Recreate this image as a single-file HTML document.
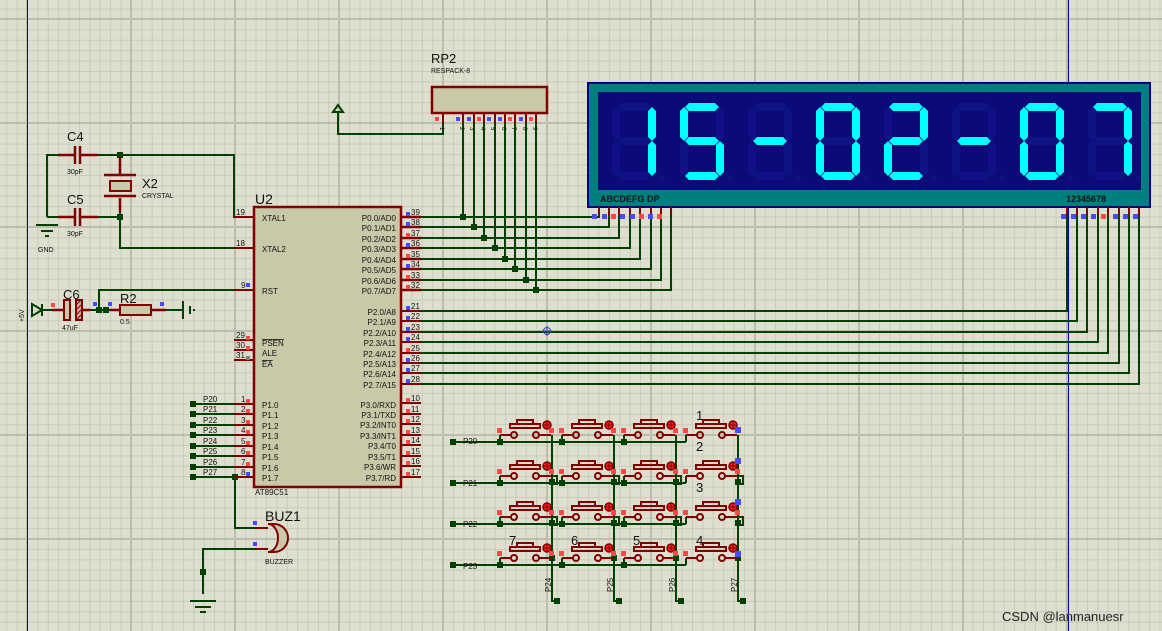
<!DOCTYPE html>
<html><head><meta charset="utf-8"><style>
html,body{margin:0;padding:0}
body{width:1162px;height:631px;overflow:hidden;background-color:#dfdfd0;
background-image:
linear-gradient(to right,#bdbdad 0,#bdbdad 2px,transparent 2px),
linear-gradient(to bottom,#bdbdad 0,#bdbdad 2px,transparent 2px),
linear-gradient(to right,#cbcbbb 0,#cbcbbb 1px,transparent 1px),
linear-gradient(to bottom,#cbcbbb 0,#cbcbbb 1px,transparent 1px);
background-size:104px 104px,104px 104px,10.4px 10.4px,10.4px 10.4px;
background-position:26px 0,0 18px,27px 0,0 19px;}
svg{position:absolute;left:0;top:0}
text{font-family:"Liberation Sans",sans-serif;fill:#111}
</style></head><body>
<svg width="1162" height="631" viewBox="0 0 1162 631">
<defs>
<polygon id="sa" points="5,4 9,0 35,0 39,4 35,8 9,8"/>
<polygon id="sg" points="5,38 9,34 35,34 39,38 35,42 9,42"/>
<polygon id="sd" points="5,73 9,69 35,69 39,73 35,77 9,77"/>
<polygon id="sf" points="4,4 8,8 8,34 4,38 0,34 0,8"/>
<polygon id="se" points="4,38 8,42 8,69 4,73 0,69 0,42"/>
<polygon id="sb" points="40,4 44,8 44,34 40,38 36,34 36,8"/>
<polygon id="sc" points="40,38 44,42 44,69 40,73 36,69 36,42"/>
<g id="off" fill="#0f1184"><use href="#sa"/><use href="#sb"/><use href="#sc"/><use href="#sd"/><use href="#se"/><use href="#sf"/><use href="#sg"/><circle cx="50" cy="75" r="3"/></g>
<g id="sw">
 <rect x="510" y="424" width="30" height="4" fill="none" stroke="#800000" stroke-width="2"/>
 <rect x="517" y="420" width="16" height="4" fill="none" stroke="#800000" stroke-width="2"/>
 <circle cx="547" cy="425" r="4" fill="#ff2020" stroke="#800000" stroke-width="1.5"/>
 <path d="M543 425h8M547 421v8" stroke="#800000" stroke-width="1"/>
 <path d="M500 435h11M539 435h12" stroke="#800000" stroke-width="2"/>
 <circle cx="514" cy="435" r="3" fill="none" stroke="#800000" stroke-width="2"/>
 <circle cx="536" cy="435" r="3" fill="none" stroke="#800000" stroke-width="2"/>
 <rect x="497" y="428" width="5" height="5" fill="#ff4848"/>
 <rect x="549" y="428" width="5" height="5" fill="#ff4848"/>
</g>
</defs>

<line x1="27.5" y1="0" x2="27.5" y2="631" stroke="#0000c0" stroke-width="1"/>
<line x1="1068.5" y1="0" x2="1068.5" y2="631" stroke="#0000c0" stroke-width="1"/>

<g fill="none" stroke="#004000" stroke-width="2">
<path d="M47 217V155H70M85 155H234V217H248"/>
<path d="M47 217H70M85 217H120M120 155V175M120 198V248H234"/>
<path d="M42 310H62M84 310H120M151 310H183M99 310V290H234"/>
<path d="M443 123V134H338V112"/>
<path d="M463 123V217M474 123V227M484 123V238M495 123V248M505 123V259M515 123V269M526 123V280M536 123V290"/>
<path d="M421 217H599V215M421 227H609V215M421 238H619V215M421 248H630V215M421 259H640V215M421 269H651V215M421 280H661V215M421 290H671V215"/>
<path d="M421 311H1067V215M421 321H1077V215M421 332H1087V215M421 342H1098V215M421 353H1108V215M421 363H1119V215M421 373H1129V215M421 384H1139V215"/>
<path d="M193 404H234M193 414H234M193 425H234M193 435H234M193 446H234M193 456H234M193 467H234M193 477H234"/>
<path d="M235 477V528H255M255 549H203V594"/>
<path d="M453 442H686M453 483H686M453 524H686M453 565H686"/>
<path d="M500 435V442M562 435V442M624 435V442M686 435V442"/>
<path d="M500 476V483M562 476V483M624 476V483M686 476V483"/>
<path d="M500 517V524M562 517V524M624 517V524M686 517V524"/>
<path d="M500 558V565M562 558V565M624 558V565M686 558V565"/>
<path d="M552 435V601H557M614 435V601H619M676 435V601H681M738 435V601H743"/>
<path d="M552 476H557V484H552M614 476H619V484H614M676 476H681V484H676M738 476H743V484H738"/>
<path d="M552 517H557V525H552M614 517H619V525H614M676 517H681V525H676M738 517H743V525H738"/>
</g>
<g fill="#004000">
<rect x="117" y="152" width="6" height="6"/><rect x="117" y="214" width="6" height="6"/>
<rect x="96" y="307" width="6" height="6"/><rect x="103" y="307" width="6" height="6"/>
<rect x="460" y="214" width="6" height="6"/><rect x="471" y="224" width="6" height="6"/><rect x="481" y="235" width="6" height="6"/><rect x="492" y="245" width="6" height="6"/><rect x="502" y="256" width="6" height="6"/><rect x="512" y="266" width="6" height="6"/><rect x="523" y="277" width="6" height="6"/><rect x="533" y="287" width="6" height="6"/>
<rect x="190" y="401" width="6" height="6"/><rect x="190" y="411" width="6" height="6"/><rect x="190" y="422" width="6" height="6"/><rect x="190" y="432" width="6" height="6"/><rect x="190" y="443" width="6" height="6"/><rect x="190" y="453" width="6" height="6"/><rect x="190" y="464" width="6" height="6"/><rect x="190" y="474" width="6" height="6"/>
<rect x="232" y="474" width="6" height="6"/><rect x="200" y="569" width="6" height="6"/>
<rect x="450" y="439" width="6" height="6"/><rect x="450" y="480" width="6" height="6"/><rect x="450" y="521" width="6" height="6"/><rect x="450" y="562" width="6" height="6"/>
<rect x="497" y="439" width="6" height="6"/><rect x="559" y="439" width="6" height="6"/><rect x="621" y="439" width="6" height="6"/>
<rect x="497" y="480" width="6" height="6"/><rect x="559" y="480" width="6" height="6"/><rect x="621" y="480" width="6" height="6"/>
<rect x="497" y="521" width="6" height="6"/><rect x="559" y="521" width="6" height="6"/><rect x="621" y="521" width="6" height="6"/>
<rect x="497" y="562" width="6" height="6"/><rect x="559" y="562" width="6" height="6"/><rect x="621" y="562" width="6" height="6"/>
<rect x="549" y="479" width="6" height="6"/><rect x="611" y="479" width="6" height="6"/><rect x="673" y="479" width="6" height="6"/><rect x="735" y="479" width="6" height="6"/>
<rect x="549" y="520" width="6" height="6"/><rect x="611" y="520" width="6" height="6"/><rect x="673" y="520" width="6" height="6"/><rect x="735" y="520" width="6" height="6"/>
<rect x="549" y="555" width="6" height="6"/><rect x="611" y="555" width="6" height="6"/><rect x="673" y="555" width="6" height="6"/><rect x="735" y="555" width="6" height="6"/>
<rect x="554" y="598" width="6" height="6"/><rect x="616" y="598" width="6" height="6"/><rect x="678" y="598" width="6" height="6"/><rect x="740" y="598" width="6" height="6"/>
</g>

<g stroke="#004000" stroke-width="2">
<path d="M36 225H58M41 231H53M45 236H49"/>
<path d="M190 601H216M195 607H211M200 612H206"/>
<path d="M183 301V319M190 306V314M194 309V311"/>
</g>
<path d="M42 310L32 304V316Z M42 304V316" fill="none" stroke="#004000" stroke-width="2"/>
<path d="M338 105L333 112H343Z" fill="none" stroke="#004000" stroke-width="2"/>

<g stroke="#800000" stroke-width="2.5">
<path d="M58 155H75M80 155H98M75 146V164M80 146V164"/>
<path d="M58 217H75M80 217H98M75 208V226M80 208V226"/>
<path d="M120 157V175M120 198V212M104 175H136M104 196H136"/>
<path d="M52 310H66M78 310H90M110 310H120M151 310H166M401 217H421M401 227H421M401 238H421M401 248H421M401 259H421M401 269H421M401 280H421M401 290H421"/>
</g>
<rect x="110" y="181" width="21" height="10" fill="#c9c9a9" stroke="#800000" stroke-width="2"/>
<rect x="64" y="300" width="6" height="20" fill="#c9c9a9" stroke="#800000" stroke-width="2"/>
<rect x="76" y="300" width="6" height="20" fill="#c9a9a9" stroke="#800000" stroke-width="2"/>
<path d="M77 304L81 300M77 309L81 305M77 314L81 310M77 319L81 315" stroke="#800000"/>
<rect x="120" y="305" width="31" height="10" fill="#c9c9a9" stroke="#800000" stroke-width="2"/>

<g fill="#4a4aff"><rect x="93" y="302" width="4" height="4"/><rect x="108" y="302" width="4" height="4"/><rect x="160" y="302" width="4" height="4"/></g>
<rect x="51" y="303" width="4" height="4" fill="#ff4848"/>

<rect x="254" y="207" width="147" height="280" fill="#c9c9a9" stroke="#800000" stroke-width="2.5"/>
<g stroke="#800000" stroke-width="2">
<path d="M234 217H254M234 248H254M234 290H254M234 340H254M234 350H254M234 360H254"/>
<path d="M234 404H254M234 414H254M234 425H254M234 435H254M234 446H254M234 456H254M234 467H254M234 477H254"/>
<path d="M401 311H421M401 321H421M401 332H421M401 342H421M401 353H421M401 363H421M401 373H421M401 384H421"/>
<path d="M401 403H421M401 414H421M401 424H421M401 435H421M401 445H421M401 456H421M401 466H421M401 477H421"/>
</g>
<g font-size="8">
<text x="236" y="215">19</text><text x="236" y="246">18</text><text x="241" y="288">9</text>
<text x="236" y="338">29</text><text x="236" y="348">30</text><text x="236" y="358">31</text>
<text x="241" y="402">1</text><text x="241" y="412">2</text><text x="241" y="423">3</text><text x="241" y="433">4</text><text x="241" y="444">5</text><text x="241" y="454">6</text><text x="241" y="465">7</text><text x="241" y="475">8</text>
<text x="411" y="215">39</text><text x="411" y="225">38</text><text x="411" y="236">37</text><text x="411" y="246">36</text><text x="411" y="257">35</text><text x="411" y="267">34</text><text x="411" y="278">33</text><text x="411" y="288">32</text>
<text x="411" y="309">21</text><text x="411" y="319">22</text><text x="411" y="330">23</text><text x="411" y="340">24</text><text x="411" y="351">25</text><text x="411" y="361">26</text><text x="411" y="371">27</text><text x="411" y="382">28</text>
<text x="411" y="401">10</text><text x="411" y="412">11</text><text x="411" y="422">12</text><text x="411" y="433">13</text><text x="411" y="443">14</text><text x="411" y="454">15</text><text x="411" y="464">16</text><text x="411" y="475">17</text>
<text x="262" y="221">XTAL1</text><text x="262" y="252">XTAL2</text><text x="262" y="294">RST</text>
<text x="262" y="346" text-decoration="overline">PSEN</text><text x="262" y="356">ALE</text><text x="262" y="367" text-decoration="overline">EA</text>
<text x="262" y="408">P1.0</text><text x="262" y="418">P1.1</text><text x="262" y="429">P1.2</text><text x="262" y="439">P1.3</text><text x="262" y="450">P1.4</text><text x="262" y="460">P1.5</text><text x="262" y="471">P1.6</text><text x="262" y="481">P1.7</text>
</g>
<g font-size="8" text-anchor="end">
<text x="396" y="221">P0.0/AD0</text><text x="396" y="231">P0.1/AD1</text><text x="396" y="242">P0.2/AD2</text><text x="396" y="252">P0.3/AD3</text><text x="396" y="263">P0.4/AD4</text><text x="396" y="273">P0.5/AD5</text><text x="396" y="284">P0.6/AD6</text><text x="396" y="294">P0.7/AD7</text>
<text x="396" y="315">P2.0/A8</text><text x="396" y="325">P2.1/A9</text><text x="396" y="336">P2.2/A10</text><text x="396" y="346">P2.3/A11</text><text x="396" y="357">P2.4/A12</text><text x="396" y="367">P2.5/A13</text><text x="396" y="377">P2.6/A14</text><text x="396" y="388">P2.7/A15</text>
<text x="396" y="408">P3.0/RXD</text><text x="396" y="418">P3.1/TXD</text><text x="396" y="428">P3.2/INT0</text><text x="396" y="439">P3.3/INT1</text><text x="396" y="449">P3.4/T0</text><text x="396" y="460">P3.5/T1</text><text x="396" y="470">P3.6/WR</text><text x="396" y="481">P3.7/RD</text>
</g>
<g fill="#ff4848">
<rect x="246" y="336" width="4" height="4"/><rect x="246" y="346" width="4" height="4"/>
<rect x="246" y="399" width="4" height="4"/><rect x="246" y="409" width="4" height="4"/><rect x="246" y="420" width="4" height="4"/><rect x="246" y="430" width="4" height="4"/><rect x="246" y="441" width="4" height="4"/><rect x="246" y="451" width="4" height="4"/><rect x="246" y="462" width="4" height="4"/>
<rect x="406" y="233" width="4" height="4"/><rect x="406" y="254" width="4" height="4"/><rect x="406" y="275" width="4" height="4"/><rect x="406" y="285" width="4" height="4"/><rect x="406" y="348" width="4" height="4"/>
<rect x="406" y="398" width="4" height="4"/><rect x="406" y="409" width="4" height="4"/><rect x="406" y="419" width="4" height="4"/><rect x="406" y="430" width="4" height="4"/><rect x="406" y="440" width="4" height="4"/><rect x="406" y="451" width="4" height="4"/><rect x="406" y="461" width="4" height="4"/><rect x="406" y="472" width="4" height="4"/>
</g>
<rect x="246" y="356" width="4" height="4" fill="#808080"/>
<g fill="#4a4aff">
<rect x="246" y="283" width="4" height="4"/><rect x="246" y="472" width="4" height="4"/>
<rect x="406" y="212" width="4" height="4"/><rect x="406" y="222" width="4" height="4"/><rect x="406" y="243" width="4" height="4"/><rect x="406" y="264" width="4" height="4"/>
<rect x="406" y="306" width="4" height="4"/><rect x="406" y="316" width="4" height="4"/><rect x="406" y="327" width="4" height="4"/><rect x="406" y="337" width="4" height="4"/><rect x="406" y="358" width="4" height="4"/><rect x="406" y="368" width="4" height="4"/><rect x="406" y="379" width="4" height="4"/>
</g>

<text x="255" y="204" font-size="14">U2</text>
<text x="255" y="495" font-size="8">AT89C51</text>
<text x="67" y="141" font-size="13">C4</text><text x="67" y="174" font-size="7">30pF</text>
<text x="67" y="204" font-size="13">C5</text><text x="67" y="236" font-size="7">30pF</text>
<text x="142" y="188" font-size="13">X2</text><text x="142" y="198" font-size="7">CRYSTAL</text>
<text x="38" y="252" font-size="7">GND</text>
<text x="63" y="299" font-size="13">C6</text><text x="62" y="330" font-size="7">47uF</text>
<text x="120" y="303" font-size="13">R2</text><text x="120" y="324" font-size="7">0.5</text>
<text x="24" y="322" font-size="7" transform="rotate(-90 24 322)">+5V</text>
<g font-size="8">
<text x="203" y="402">P20</text><text x="203" y="412">P21</text><text x="203" y="423">P22</text><text x="203" y="433">P23</text><text x="203" y="444">P24</text><text x="203" y="454">P25</text><text x="203" y="465">P26</text><text x="203" y="475">P27</text>
</g>

<path d="M255 528H268M255 549H268" stroke="#800000" stroke-width="2"/>
<path d="M268 524H274A14 14 0 0 1 274 552H268A10 14 0 0 0 268 524Z" fill="#c9c9a9" stroke="#800000" stroke-width="2"/>
<rect x="253" y="521" width="4" height="4" fill="#4a4aff"/><rect x="253" y="542" width="4" height="4" fill="#4a4aff"/>
<text x="265" y="521" font-size="14">BUZ1</text><text x="265" y="564" font-size="7">BUZZER</text>

<rect x="432" y="87" width="115" height="26" fill="#c9c9a9" stroke="#800000" stroke-width="2.5"/>
<path d="M443 113V123M463 113V123M474 113V123M484 113V123M495 113V123M505 113V123M515 113V123M526 113V123M536 113V123" stroke="#800000" stroke-width="2"/>
<g fill="#4a4aff"><rect x="456" y="117" width="4" height="4"/><rect x="467" y="117" width="4" height="4"/><rect x="487" y="117" width="4" height="4"/><rect x="498" y="117" width="4" height="4"/><rect x="519" y="117" width="4" height="4"/></g>
<g fill="#ff4848"><rect x="435" y="117" width="4" height="4"/><rect x="477" y="117" width="4" height="4"/><rect x="508" y="117" width="4" height="4"/><rect x="529" y="117" width="4" height="4"/></g>
<text x="431" y="63" font-size="13">RP2</text><text x="431" y="73" font-size="7">RESPACK-8</text>
<g font-size="6"><text x="440" y="127" transform="rotate(90 440 127)">1</text><text x="460" y="127" transform="rotate(90 460 127)">2</text><text x="470" y="127" transform="rotate(90 470 127)">3</text><text x="481" y="127" transform="rotate(90 481 127)">4</text><text x="491" y="127" transform="rotate(90 491 127)">5</text><text x="502" y="127" transform="rotate(90 502 127)">6</text><text x="512" y="127" transform="rotate(90 512 127)">7</text><text x="523" y="127" transform="rotate(90 523 127)">8</text><text x="533" y="127" transform="rotate(90 533 127)">9</text></g>

<rect x="588" y="83" width="562" height="124" fill="#007f7f" stroke="#000080" stroke-width="2"/>
<rect x="598" y="92" width="543" height="98" fill="#0a0a78"/>
<g>
<use href="#off" x="612" y="103"/><use href="#off" x="680" y="103"/><use href="#off" x="748" y="103"/><use href="#off" x="816" y="103"/>
<use href="#off" x="884" y="103"/><use href="#off" x="952" y="103"/><use href="#off" x="1020" y="103"/><use href="#off" x="1088" y="103"/>
</g>
<g fill="#00ffff">
<g transform="translate(612 103)"><use href="#sb"/><use href="#sc"/></g>
<g transform="translate(680 103)"><use href="#sa"/><use href="#sf"/><use href="#sg"/><use href="#sc"/><use href="#sd"/></g>
<g transform="translate(748 103)"><use href="#sg"/></g>
<g transform="translate(816 103)"><use href="#sa"/><use href="#sb"/><use href="#sc"/><use href="#sd"/><use href="#se"/><use href="#sf"/></g>
<g transform="translate(884 103)"><use href="#sa"/><use href="#sb"/><use href="#sg"/><use href="#se"/><use href="#sd"/></g>
<g transform="translate(952 103)"><use href="#sg"/></g>
<g transform="translate(1020 103)"><use href="#sa"/><use href="#sb"/><use href="#sc"/><use href="#sd"/><use href="#se"/><use href="#sf"/></g>
<g transform="translate(1088 103)"><use href="#sa"/><use href="#sb"/><use href="#sc"/></g>
</g>
<text x="600" y="202" font-size="9" font-weight="bold" fill="#000">ABCDEFG DP</text>
<text x="1066" y="202" font-size="9" font-weight="bold" fill="#000">12345678</text>
<path d="M599 207V215M609 207V215M619 207V215M630 207V215M640 207V215M651 207V215M661 207V215M671 207V215M1067 207V215M1077 207V215M1087 207V215M1098 207V215M1108 207V215M1119 207V215M1129 207V215M1139 207V215" stroke="#800000" stroke-width="2"/>
<g fill="#4a4aff"><rect x="592" y="214" width="5" height="5"/><rect x="602" y="214" width="5" height="5"/><rect x="620" y="214" width="5" height="5"/><rect x="630" y="214" width="5" height="5"/><rect x="648" y="214" width="5" height="5"/>
<rect x="1061" y="214" width="5" height="5"/><rect x="1071" y="214" width="5" height="5"/><rect x="1081" y="214" width="5" height="5"/><rect x="1091" y="214" width="5" height="5"/><rect x="1113" y="214" width="5" height="5"/><rect x="1123" y="214" width="5" height="5"/><rect x="1133" y="214" width="5" height="5"/></g>
<g fill="#ff4848"><rect x="611" y="214" width="5" height="5"/><rect x="639" y="214" width="5" height="5"/><rect x="657" y="214" width="5" height="5"/><rect x="1101" y="214" width="5" height="5"/></g>

<use href="#sw"/><use href="#sw" x="62"/><use href="#sw" x="124"/><use href="#sw" x="186"/>
<use href="#sw" y="41"/><use href="#sw" x="62" y="41"/><use href="#sw" x="124" y="41"/><use href="#sw" x="186" y="41"/>
<use href="#sw" y="82"/><use href="#sw" x="62" y="82"/><use href="#sw" x="124" y="82"/><use href="#sw" x="186" y="82"/>
<use href="#sw" y="123"/><use href="#sw" x="62" y="123"/><use href="#sw" x="124" y="123"/><use href="#sw" x="186" y="123"/>
<g fill="#4a4aff"><rect x="735" y="427" width="6" height="6"/><rect x="735" y="458" width="6" height="6"/><rect x="735" y="499" width="6" height="6"/><rect x="735" y="551" width="6" height="6"/></g>
<g font-size="8"><text x="463" y="444">P20</text><text x="463" y="486">P21</text><text x="463" y="527">P22</text><text x="463" y="569">P23</text>
<text x="551" y="592" transform="rotate(-90 551 592)">P24</text><text x="613" y="592" transform="rotate(-90 613 592)">P25</text><text x="675" y="592" transform="rotate(-90 675 592)">P26</text><text x="737" y="592" transform="rotate(-90 737 592)">P27</text></g>
<g font-size="13"><text x="696" y="420">1</text><text x="696" y="451">2</text><text x="696" y="492">3</text><text x="509" y="545">7</text><text x="571" y="545">6</text><text x="633" y="545">5</text><text x="696" y="545">4</text></g>

<circle cx="547" cy="331" r="3.5" fill="none" stroke="#3050a0" stroke-width="1"/>
<path d="M542 331h10M547 326v10" stroke="#3050a0" stroke-width="1"/>

<text x="1002" y="621" font-size="13" fill="#fff" stroke="#888" stroke-width="0.3">CSDN @lanmanuesr</text>
</svg>
</body></html>
